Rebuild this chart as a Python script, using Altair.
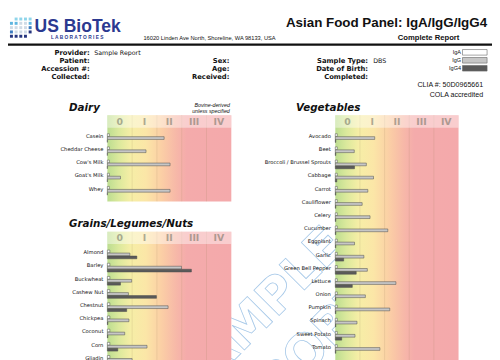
import altair as alt
import pandas as pd

OX, OY = 8, 8
W, H = 492, 352
ROW_H = 13.4

# ---------------- data ----------------
series = ["IgA", "IgG", "IgG4"]
series_colors = ["#ffffff", "#c6c6c6", "#5a5a5a"]
classes = ["0", "I", "II", "III", "IV"]

dairy_foods = ["Casein", "Cheddar Cheese", "Cow's Milk", "Goat's Milk", "Whey"]
dairy_iga = [0.08, 0.08, 0.08, 0.08, 0.08]
dairy_igg = [2.29, 1.56, 2.53, 0.53, 2.53]
dairy_igg4 = [0.0, 0.0, 0.0, 0.0, 0.0]

grains_foods = ["Almond", "Barley", "Buckwheat", "Cashew Nut", "Chestnut",
                "Chickpea", "Coconut", "Corn", "Gliadin"]
grains_iga = [0.1, 0.1, 0.1, 0.1, 0.1, 0.1, 0.1, 0.1, 0.1]
grains_igg = [0.91, 2.99, 0.98, 0.85, 2.45, 0.87, 0.70, 1.60, 1.00]
grains_igg4 = [1.19, 3.39, 0.53, 1.98, 0.78, 0.02, 0.02, 0.42, 0.30]

veg_foods = ["Avocado", "Beet", "Broccoli / Brussel Sprouts", "Cabbage", "Carrot",
             "Cauliflower", "Celery", "Cucumber", "Eggplant", "Garlic",
             "Green Bell Pepper", "Lettuce", "Onion", "Pumpkin", "Spinach",
             "Sweet Potato", "Tomato"]
veg_iga = [0.08, 0.08, 0.08, 0.08, 0.08, 0.08, 0.08, 0.08, 0.08, 0.08,
           0.08, 0.08, 0.08, 0.08, 0.08, 0.08, 0.08]
veg_igg = [1.60, 0.77, 1.26, 1.55, 1.32, 1.09, 1.41, 2.13, 0.78, 1.16,
           1.30, 2.46, 1.22, 2.21, 0.88, 0.80, 1.81]
veg_igg4 = [0.02, 0.02, 0.78, 0.06, 0.02, 0.02, 0.02, 0.02, 0.02, 0.34,
            0.85, 0.69, 0.02, 0.02, 0.02, 0.26, 0.02]

left_labels = ["Provider:", "Patient:", "Accession #:", "Collected:"]
mid_labels = ["Sex:", "Age:", "Received:"]
right_labels = ["Sample Type:", "Date of Birth:", "Completed:"]

logo_rows = ["-aaaa", "bbccb", "ccccd", "dccce", "eeee-"]
logo_palette = {"a": "#8fd5ea", "b": "#5fb6e0", "c": "#cfdbe6", "d": "#3c7cc0", "e": "#26357e"}

# ---------------- helpers ----------------
def px(x):
    return x - OX


def py(y):
    return y - OY


one = pd.DataFrame({"k": [0]})


def text(t, x, y, size, weight="normal", align="left", font="Liberation Sans",
         style="normal", color="#111111", baseline="middle", **kw):
    return alt.Chart(one).mark_text(
        text=t, align=align, baseline=baseline, fontSize=size, fontWeight=weight,
        font=font, fontStyle=style, color=color, **kw
    ).encode(x=alt.value(px(x)), y=alt.value(py(y)))


color_scale = alt.Scale(domain=series, range=series_colors)

grad = alt.Gradient(
    gradient="linear", x1=0, x2=1, y1=0, y2=0,
    stops=[
        alt.GradientStop(offset=0.0, color="#bcdd90"),
        alt.GradientStop(offset=0.09, color="#dbe99c"),
        alt.GradientStop(offset=0.19, color="#f6eea6"),
        alt.GradientStop(offset=0.31, color="#fbe6a7"),
        alt.GradientStop(offset=0.43, color="#fbd0a5"),
        alt.GradientStop(offset=0.55, color="#f7b9a8"),
        alt.GradientStop(offset=0.64, color="#f4abab"),
        alt.GradientStop(offset=1.0, color="#f4a9ab"),
    ],
)


def panel(foods, iga, igg, igg4, x0, x1, rows_top, bg_top, hdr_bot, bg_bot,
          title, title_x, title_y, label_dx):
    n = len(foods)
    xs = alt.Scale(domain=[0, 5], range=[px(x0), px(x1)])
    ys = alt.Scale(domain=foods, range=[py(rows_top), py(rows_top + n * ROW_H)],
                   paddingInner=0, paddingOuter=0)
    long = pd.DataFrame({
        "food": foods * 3,
        "series": ["IgA"] * n + ["IgG"] * n + ["IgG4"] * n,
        "value": iga + igg + igg4,
    })
    bg = alt.Chart(one).mark_rect(fill=grad).encode(
        x=alt.XDatum(0, type="quantitative", scale=xs, axis=None),
        x2=alt.X2Datum(5),
        y=alt.value(py(bg_top)), y2=alt.value(py(bg_bot)),
    )
    grid = alt.Chart(pd.DataFrame({"b": [1, 2, 3, 4]})).mark_rule(
        color="#a08060", opacity=0.22, strokeWidth=0.8
    ).encode(
        x=alt.X("b:Q", scale=xs, axis=None),
        y=alt.value(py(bg_top)), y2=alt.value(py(bg_bot)),
    )
    hdr = alt.Chart(one).mark_rect(color="#ffffff", opacity=0.42).encode(
        x=alt.XDatum(0, type="quantitative", scale=xs, axis=None),
        x2=alt.X2Datum(5),
        y=alt.value(py(bg_top)), y2=alt.value(py(hdr_bot)),
    )
    cls_df = pd.DataFrame({"cls": classes, "mid": [i + 0.5 for i in range(len(classes))]})
    nums = alt.Chart(cls_df).mark_text(
        font="DejaVu Sans", fontWeight="bold", fontSize=9.5, color="#6f6f60", opacity=0.55,
        baseline="middle", align="center",
    ).encode(
        x=alt.X("mid:Q", scale=xs, axis=None),
        y=alt.value(py((bg_top + hdr_bot) / 2 + 0.3)),
        text="cls:N",
    )
    bars = alt.Chart(long).mark_bar(stroke="#4a4a4a", strokeWidth=0.5).encode(
        x=alt.X("value:Q", scale=xs, axis=None),
        y=alt.Y("food:N", scale=ys, axis=None, sort=foods),
        yOffset=alt.YOffset("series:N", sort=series,
                            scale=alt.Scale(domain=series, paddingInner=0.08, paddingOuter=0.75)),
        color=alt.Color("series:N", scale=color_scale, legend=None),
    )
    labels = alt.Chart(pd.DataFrame({"food": foods})).mark_text(
        align="right", baseline="middle", dx=label_dx, dy=-2.2, fontSize=5.3,
        font="DejaVu Sans", color="#111111",
    ).encode(
        x=alt.XDatum(0, type="quantitative", scale=xs, axis=None),
        y=alt.Y("food:N", scale=ys, axis=None, sort=foods),
        text="food:N",
    )
    ttl = text(title, title_x, title_y, 10.5, weight="bold", style="italic", font="DejaVu Sans")
    return alt.layer(bg, grid, hdr, nums, bars, labels, ttl)


dairy = panel(dairy_foods, dairy_iga, dairy_igg, dairy_igg4, 109, 235, 130.6,
              114, 126.7, 201.7, "Dairy", 70, 106.7, -4)
grains = panel(grains_foods, grains_iga, grains_igg, grains_igg4, 109, 235, 248.9,
               232.5, 245, 372, "Grains/Legumes/Nuts", 70, 225, -4)
veg = panel(veg_foods, veg_iga, veg_igg, veg_igg4, 340.7, 466, 130.6,
            114, 126.7, 372, "Vegetables", 300.7, 106.7, -4.5)

# ---------------- header ----------------
layers = []

# logo grid
logo_cells = []
for r, row in enumerate(logo_rows):
    for c, ch in enumerate(row):
        if ch != "-":
            logo_cells.append({"col": c, "row": r, "col_hex": logo_palette[ch]})
logo = alt.Chart(pd.DataFrame(logo_cells)).mark_square(size=9, opacity=1).encode(
    x=alt.X("col:Q", scale=alt.Scale(domain=[0, 4], range=[px(11.5), px(30.5)]), axis=None),
    y=alt.Y("row:Q", scale=alt.Scale(domain=[0, 4], range=[py(16.3), py(33.8)]), axis=None),
    color=alt.Color("col_hex:N", scale=None),
)
layers.append(logo)
layers.append(text("US BioTek", 35, 29.4, 17.8, weight="bold", color="#2b3990",
                   baseline="alphabetic"))
layers.append(text("L A B O R A T O R I E S", 51.7, 35.3, 4.9, weight="bold", color="#2b3990"))
layers.append(text("16020 Linden Ave North, Shoreline, WA 98133, USA", 145.7, 36, 5.8))
layers.append(text("Asian Food Panel: IgA/IgG/IgG4", 495, 20.5, 13.6, weight="bold", align="right"))
layers.append(text("Complete Report", 435.5, 36, 7.8, weight="bold", align="center"))

rule = alt.Chart(one).mark_rule(color="#111111", strokeWidth=2.2).encode(
    x=alt.value(0), x2=alt.value(W), y=alt.value(py(42.3))
)
layers.append(rule)

for i, lab in enumerate(left_labels):
    layers.append(text(lab, 91, 51 + 8 * i, 6.9, weight="bold", align="right", font="DejaVu Sans"))
layers.append(text("Sample Report", 95.7, 51, 6.4, font="DejaVu Sans"))
for i, lab in enumerate(mid_labels):
    layers.append(text(lab, 233, 59.3 + 8 * i, 6.9, weight="bold", align="right", font="DejaVu Sans"))
for i, lab in enumerate(right_labels):
    layers.append(text(lab, 374, 59.3 + 8 * i, 6.9, weight="bold", align="right", font="DejaVu Sans"))
layers.append(text("DBS", 379.3, 59.3, 6.4, font="DejaVu Sans"))

# legend
leg_y = alt.Scale(domain=series, range=[py(46.5), py(70)], paddingInner=0.3, paddingOuter=0.1)
leg_boxes = alt.Chart(pd.DataFrame({"series": series})).mark_rect(stroke="#666666", strokeWidth=0.6).encode(
    x=alt.value(px(470)), x2=alt.value(px(495)),
    y=alt.Y("series:N", scale=leg_y, axis=None, sort=series),
    color=alt.Color("series:N", scale=color_scale, legend=None),
)
leg_text = alt.Chart(pd.DataFrame({"series": series})).mark_text(
    align="right", baseline="middle", fontSize=5.6, font="Liberation Sans", color="#111111", dx=-1.5
).encode(
    x=alt.value(px(470)),
    y=alt.Y("series:N", scale=leg_y, axis=None, sort=series, bandPosition=0.5),
    text="series:N",
)
layers.append(alt.layer(leg_boxes, leg_text))

layers.append(text("CLIA #: 50D0965661", 491, 83.5, 7.2, align="right"))
layers.append(text("COLA accredited", 491, 93.5, 7.2, align="right"))
layers.append(text("Bovine-derived", 233.5, 104, 5.4, style="italic", align="right"))
layers.append(text("unless specified", 233.5, 110, 5.4, style="italic", align="right"))

# watermark (drawn beneath the panels)
for word, cx, cy in [("SAMPLE", 262, 318), ("REPORT", 298, 370)]:
    layers.append(alt.Chart(one).mark_text(
        text=word, fontSize=50, font="DejaVu Sans", fontWeight="bold", angle=315,
        align="center", baseline="middle", fillOpacity=0, stroke="#a6c8e8", strokeWidth=0.8,
    ).encode(x=alt.value(px(cx)), y=alt.value(py(cy))))

# panels
layers += [dairy, grains, veg]

chart = alt.layer(*layers).resolve_scale(
    x="independent", y="independent", yOffset="independent"
).properties(
    width=W, height=H, autosize=alt.AutoSizeParams(type="none"), padding=0
).configure_view(stroke=None)

chart.save("out.html", embed_options={"renderer": "svg", "actions": False})
